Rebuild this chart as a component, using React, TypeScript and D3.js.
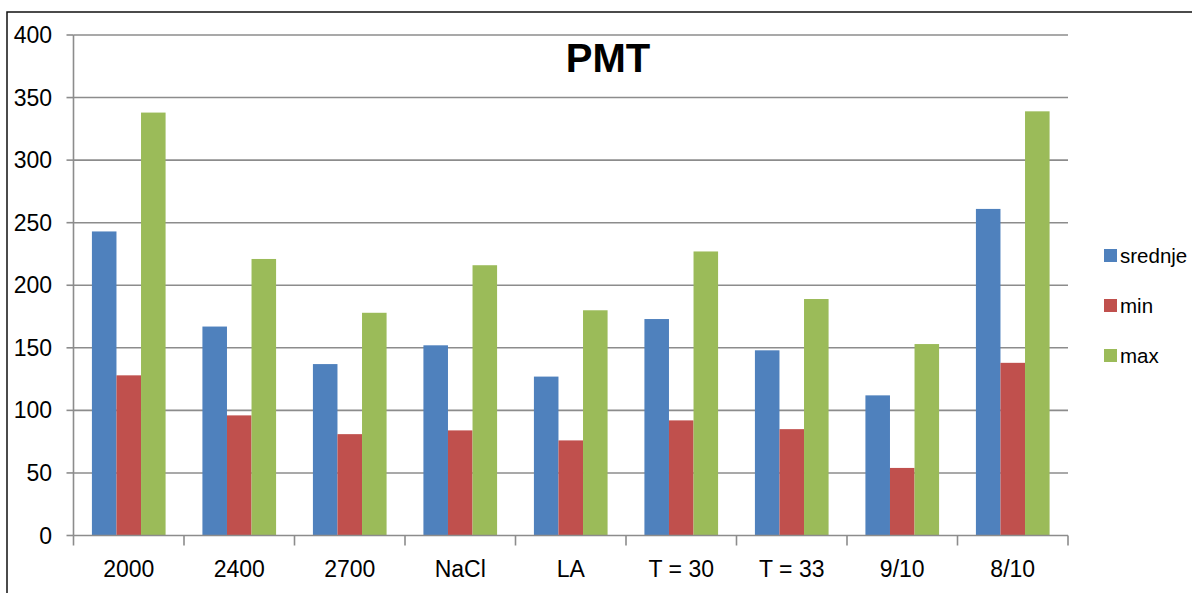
import React from "react";
import * as d3 from "d3";

const categories = ["2000", "2400", "2700", "NaCl", "LA", "T = 30", "T = 33", "9/10", "8/10"];
const seriesNames = ["srednje", "min", "max"];
const srednje = [243, 167, 137, 152, 127, 173, 148, 112, 261];
const minVals = [128, 96, 81, 84, 76, 92, 85, 54, 138];
const maxVals = [338, 221, 178, 216, 180, 227, 189, 153, 339];
const colors = ["#4F81BD", "#C0504D", "#9BBB59"];
const yTicks = [0, 50, 100, 150, 200, 250, 300, 350, 400];

const W = 1192;
const H = 593;
const FONT = "'Liberation Sans Narrow', 'Liberation Sans', Arial, sans-serif";

export default function App() {
  const left = 73.5;
  const right = 1068;
  const top = 35;
  const bottom = 535.5;
  const x = d3.scaleBand<string>().domain(categories).range([left, right]).padding(0);
  const bw = x.bandwidth() / 4.5;
  const inner = d3
    .scaleBand<string>()
    .domain(seriesNames)
    .range([0.75 * bw, 3.75 * bw])
    .padding(0);
  const y = d3.scaleLinear().domain([0, 400]).range([bottom, top]);
  const series = [srednje, minVals, maxVals];
  const grid = "#8c8c8c";

  return (
    <svg
      width={W}
      height={H}
      style={{ position: "absolute", left: 0, top: 0, background: "#fff" }}
      fontFamily={FONT}
    >
      <rect x={7} y={12} width={W + 20} height={H + 20} fill="#fff" stroke="#111" strokeWidth={1.5} />
      {yTicks.map((t) => (
        <g key={t}>
          {t > 0 && (
            <line x1={left} x2={right} y1={y(t)} y2={y(t)} stroke={grid} strokeWidth={1.6} />
          )}
          <line x1={left - 7} x2={left} y1={y(t)} y2={y(t)} stroke={grid} strokeWidth={1.6} />
          <text x={52} y={y(t)} dy="0.35em" textAnchor="end" fontSize={23} fill="#000">
            {t}
          </text>
        </g>
      ))}
      {series.map((vals, si) =>
        categories.map((c, ci) => (
          <rect
            key={`${si}-${ci}`}
            x={(x(c) as number) + (inner(seriesNames[si]) as number)}
            y={y(vals[ci])}
            width={inner.bandwidth()}
            height={bottom - y(vals[ci])}
            fill={colors[si]}
          />
        ))
      )}
      <line x1={left} x2={left} y1={top} y2={bottom} stroke={grid} strokeWidth={1.6} />
      <line x1={left} x2={right} y1={bottom} y2={bottom} stroke={grid} strokeWidth={1.6} />
      {categories.map((c, i) => (
        <line
          key={`t${i}`}
          x1={(x(c) as number)}
          x2={(x(c) as number)}
          y1={bottom}
          y2={bottom + 10}
          stroke={grid}
          strokeWidth={1.6}
        />
      ))}
      <line x1={right} x2={right} y1={bottom} y2={bottom + 10} stroke={grid} strokeWidth={1.6} />
      {categories.map((c) => (
        <text
          key={`l${c}`}
          x={(x(c) as number) + x.bandwidth() / 2}
          y={577}
          textAnchor="middle"
          fontSize={23}
          fill="#000"
        >
          {c}
        </text>
      ))}
      <text x={608} y={72} textAnchor="middle" fontSize={40} fontWeight="bold" fill="#000">
        PMT
      </text>
      {seriesNames.map((n, i) => (
        <g key={n}>
          <rect x={1104} y={249 + i * 50} width={13} height={13} fill={colors[i]} />
          <text x={1120} y={255.5 + i * 50} dy="0.35em" fontSize={20.5} fill="#000">
            {n}
          </text>
        </g>
      ))}
    </svg>
  );
}
